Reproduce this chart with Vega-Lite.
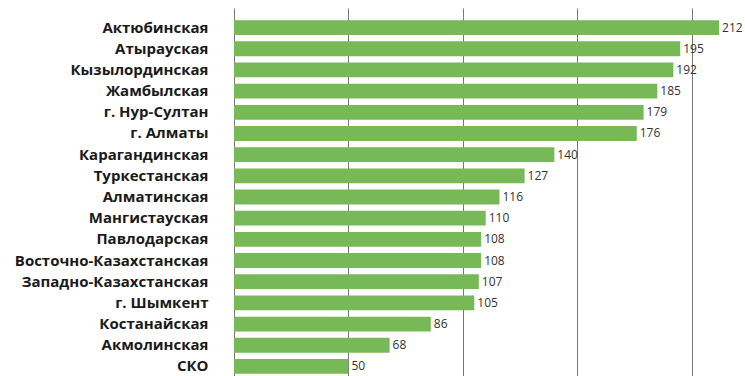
{
  "$schema": "https://vega.github.io/schema/vega-lite/v6.json",
  "width": 508,
  "height": 360,
  "autosize": "none",
  "padding": {"left": 234, "top": 17, "right": 3, "bottom": 0},
  "background": "white",
  "config": {"view": {"stroke": null}},
  "data": {
    "values": [
      {"region": "Актюбинская", "value": 212},
      {"region": "Атырауская", "value": 195},
      {"region": "Кызылординская", "value": 192},
      {"region": "Жамбылская", "value": 185},
      {"region": "г. Нур-Султан", "value": 179},
      {"region": "г. Алматы", "value": 176},
      {"region": "Карагандинская", "value": 140},
      {"region": "Туркестанская", "value": 127},
      {"region": "Алматинская", "value": 116},
      {"region": "Мангистауская", "value": 110},
      {"region": "Павлодарская", "value": 108},
      {"region": "Восточно-Казахстанская", "value": 108},
      {"region": "Западно-Казахстанская", "value": 107},
      {"region": "г. Шымкент", "value": 105},
      {"region": "Костанайская", "value": 86},
      {"region": "Акмолинская", "value": 68},
      {"region": "СКО", "value": 50}
    ]
  },
  "encoding": {
    "y": {
      "field": "region",
      "type": "nominal",
      "sort": null,
      "scale": {"paddingInner": 0.3, "paddingOuter": 0.15},
      "axis": {
        "title": null,
        "domain": false,
        "ticks": false,
        "labelPadding": 26,
        "labelFont": "Open Sans",
        "labelFontWeight": "bold",
        "labelFontSize": 15,
        "labelColor": "#1a1a1a",
        "labelLimit": 300
      }
    },
    "x": {
      "field": "value",
      "type": "quantitative",
      "scale": {"domain": [0, 222], "nice": false},
      "axis": {
        "orient": "top",
        "title": null,
        "values": [0, 50, 100, 150, 200],
        "labels": false,
        "domain": false,
        "ticks": true,
        "tickSize": 9,
        "tickColor": "#777",
        "grid": true,
        "gridColor": "#777",
        "gridWidth": 1
      }
    }
  },
  "layer": [
    {"mark": {"type": "bar", "color": "#77b957"}},
    {
      "mark": {"type": "text", "align": "left", "dx": 3, "font": "Open Sans", "fontSize": 12, "color": "#333", "clip": false},
      "encoding": {"text": {"field": "value", "type": "quantitative"}}
    }
  ]
}
